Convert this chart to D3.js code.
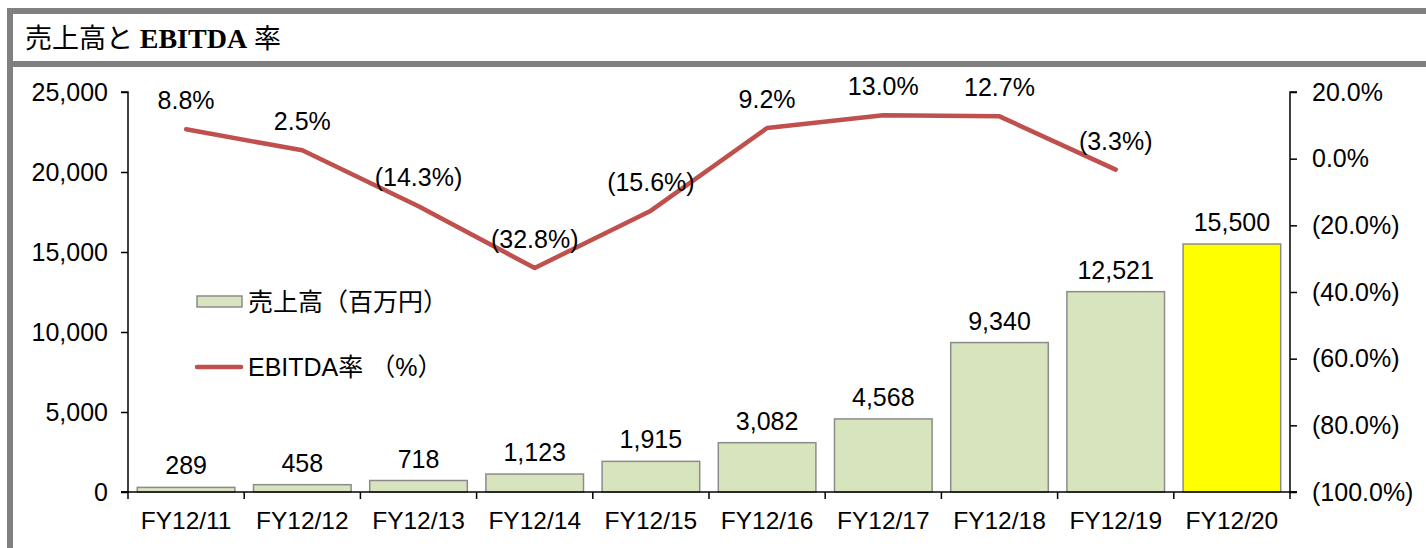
<!DOCTYPE html>
<html><head><meta charset="utf-8">
<script src="https://cdn.jsdelivr.net/npm/d3@7"></script>
<style>body{margin:0;background:#fff}svg{display:block}</style>
</head><body>
<script>
const categories = ["FY12/11","FY12/12","FY12/13","FY12/14","FY12/15","FY12/16","FY12/17","FY12/18","FY12/19","FY12/20"];
const sales = [289,458,718,1123,1915,3082,4568,9340,12521,15500];
const ebitda = [8.8,2.5,-14.3,-32.8,-15.6,9.2,13.0,12.7,-3.3];
const leftTicks = [0,5000,10000,15000,20000,25000];
const rightTicks = [20,0,-20,-40,-60,-80,-100];
const titleParts = ["売上高と ","EBITDA"," 率"];
const legendLabels = ["売上高（百万円）","EBITDA率 （%）"];

const W = 1426, H = 548;
const svg = d3.select("body").append("svg").attr("width", W).attr("height", H);
const font = "'Liberation Sans', Arial, 'Noto Sans CJK JP', sans-serif";

// frame
svg.append("rect").attr("x",7).attr("y",8).attr("width",W-7).attr("height",6).attr("fill","#808080");
svg.append("rect").attr("x",7).attr("y",8).attr("width",6).attr("height",H-8).attr("fill","#808080");
svg.append("rect").attr("x",7).attr("y",61).attr("width",W-7).attr("height",6).attr("fill","#808080");
const title = svg.append("text").attr("x",25).attr("y",48)
  .attr("font-family","'Liberation Serif','Times New Roman','Noto Sans CJK JP',serif")
  .attr("font-size",27).attr("fill","#000");
title.selectAll("tspan").data(titleParts).join("tspan").text(d=>d)
  .attr("font-weight",(d,i)=> i===1 ? "bold" : "normal")
  .attr("font-size",(d,i)=> i===1 ? 28 : 27);

const x0 = 128, x1 = 1290, yTop = 92, yBot = 492;
const x = d3.scaleBand().domain(categories).range([x0,x1]).paddingInner(0.16).paddingOuter(0.08);
const yL = d3.scaleLinear().domain([0,25000]).range([yBot,yTop]);
const yR = d3.scaleLinear().domain([-100,20]).range([yBot,yTop]);
const fmtPct = v => v < 0 ? "(" + d3.format(".1f")(-v) + "%)" : d3.format(".1f")(v) + "%";

// bars
svg.append("g").selectAll("rect").data(sales).join("rect")
  .attr("x",(d,i)=>x(categories[i])).attr("width",x.bandwidth())
  .attr("y",d=>yL(d)).attr("height",d=>yBot-yL(d))
  .attr("fill",(d,i)=> i===categories.length-1 ? "#FFFF00" : "#D7E4BD")
  .attr("stroke","#8C8C8C").attr("stroke-width",1.5);

svg.append("g").selectAll("text").data(sales).join("text")
  .attr("x",(d,i)=>x(categories[i])+x.bandwidth()/2).attr("y",d=>yL(d)-13)
  .attr("text-anchor","middle").attr("font-family",font).attr("font-size",25)
  .text(d=>d3.format(",")(d));

// axes
const gl = svg.append("g").attr("transform",`translate(${x0},0)`)
  .call(d3.axisLeft(yL).tickValues(leftTicks).tickSize(7).tickPadding(13).tickFormat(d3.format(",")));
const gr = svg.append("g").attr("transform",`translate(${x1},0)`)
  .call(d3.axisRight(yR).tickValues(rightTicks).tickSize(7).tickPadding(15).tickFormat(fmtPct));
const gx = svg.append("g").attr("transform",`translate(0,${yBot})`)
  .call(d3.axisBottom(x).tickSize(0).tickPadding(20));
const bounds = d3.range(categories.length+1).map(i => x0 + i*(x1-x0)/categories.length);
svg.append("g").selectAll("line").data(bounds).join("line")
  .attr("x1",d=>d).attr("x2",d=>d).attr("y1",yBot).attr("y2",yBot+7)
  .attr("stroke","#000").attr("stroke-width",1.5);
svg.append("line").attr("x1",x0-7).attr("x2",x1+7).attr("y1",yBot).attr("y2",yBot).attr("stroke","#000").attr("stroke-width",1.5);
[gl,gr,gx].forEach(g=>{
  g.selectAll("path.domain").attr("stroke","#000").attr("stroke-width",1.5);
  g.selectAll(".tick line").attr("stroke","#000").attr("stroke-width",1.5);
  g.selectAll("text").attr("font-family",font).attr("font-size",25).attr("fill","#000");
});
gx.select("path.domain").remove();
gx.selectAll("text").attr("font-size",24.5).attr("dy","0.71em");
gl.select("path.domain").attr("d",`M-7,${yTop}H0V${yBot}H-7`);
gr.select("path.domain").attr("d",`M7,${yTop}H0V${yBot}H7`);

// line
const cx = (i)=>x(categories[i])+x.bandwidth()/2;
svg.append("path").datum(ebitda)
  .attr("d",d3.line().x((d,i)=>cx(i)).y(d=>yR(d)))
  .attr("fill","none").attr("stroke","#C0504D").attr("stroke-width",4.5)
  .attr("stroke-linecap","round").attr("stroke-linejoin","round");
svg.append("g").selectAll("text").data(ebitda).join("text")
  .attr("x",(d,i)=>cx(i)).attr("y",d=>yR(d)-20)
  .attr("text-anchor","middle").attr("font-family",font).attr("font-size",25)
  .text(fmtPct);

// legend
svg.append("rect").attr("x",197).attr("y",296).attr("width",45).attr("height",11)
  .attr("fill","#D7E4BD").attr("stroke","#8C8C8C").attr("stroke-width",1.5);
svg.append("line").attr("x1",197).attr("x2",241).attr("y1",367).attr("y2",367)
  .attr("stroke","#C0504D").attr("stroke-width",4.5).attr("stroke-linecap","round");
svg.append("text").attr("x",248).attr("y",311).attr("font-family",font).attr("font-size",25).text(legendLabels[0]);
svg.append("text").attr("x",248).attr("y",376).attr("font-family",font).attr("font-size",25).text(legendLabels[1]);
</script>
</body></html>
